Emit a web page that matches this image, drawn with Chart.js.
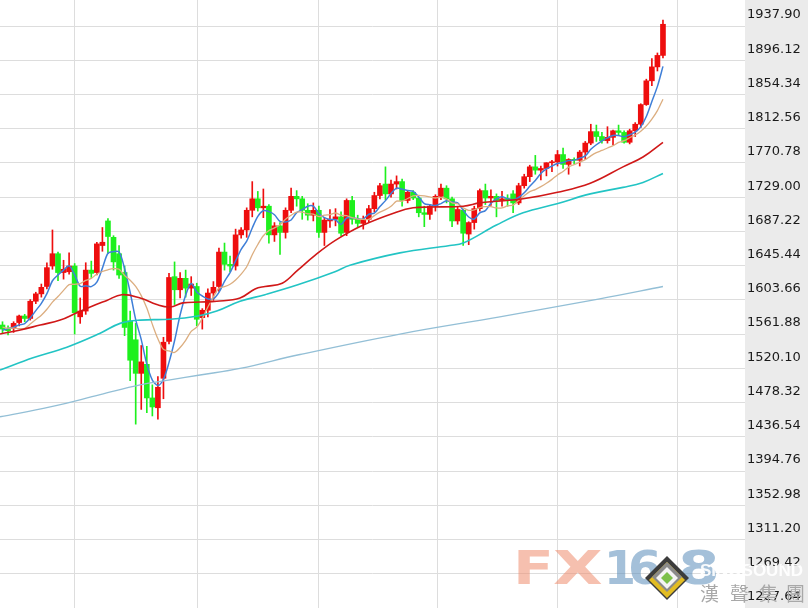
<!DOCTYPE html>
<html>
<head>
<meta charset="utf-8">
<script src="https://cdn.jsdelivr.net/npm/chart.js@4.4.1/dist/chart.umd.min.js"></script>
<style>
  html, body { margin: 0; padding: 0; background: #fff; }
  #wrap { width: 808px; height: 608px; }
</style>
</head>
<body>
<div id="wrap"><canvas id="graph" width="808" height="608"></canvas></div>
<script>
// daily candles, 11 Feb .. 27 Jul (index = trading day)
const opens = [1573,1568,1569,1576,1584,1581,1602,1611,1620,1645,1660,1637,1638,1645,1583,1590,1640,1637,1670,1700,
  1680,1660,1637,1578,1555,1514,1525,1484,1472,1508,1553,1632,1616,1630,1618,1620,1582,1591,1612,1620,
  1662,1647,1645,1683,1689,1713,1727,1716,1718,1683,1694,1686,1713,1730,1727,1713,1707,1713,1686,1700,
  1702,1705,1686,1725,1702,1697,1702,1715,1731,1745,1733,1745,1748,1725,1735,1728,1710,1708,1718,1730,
  1740,1727,1700,1713,1684,1698,1715,1737,1728,1730,1725,1727,1733,1722,1743,1754,1766,1762,1764,1771,
  1772,1781,1769,1775,1774,1784,1795,1809,1803,1798,1802,1810,1808,1796,1810,1818,1842,1871,1888,1902];
const highs = [1577,1572,1577,1585,1586,1604,1613,1623,1649,1689,1662,1652,1661,1648,1606,1649,1651,1674,1692,1703,
  1682,1670,1645,1590,1575,1548,1547,1500,1510,1558,1636,1650,1637,1640,1632,1624,1593,1617,1626,1667,
  1673,1657,1690,1692,1716,1748,1736,1739,1720,1698,1698,1716,1740,1737,1730,1721,1722,1718,1704,1714,
  1715,1711,1727,1730,1707,1706,1719,1735,1746,1766,1750,1755,1751,1737,1737,1729,1718,1720,1732,1745,
  1743,1729,1717,1714,1699,1718,1739,1745,1738,1733,1736,1732,1737,1746,1757,1768,1780,1767,1771,1774,
  1786,1789,1776,1777,1786,1797,1818,1817,1808,1815,1811,1817,1810,1812,1820,1843,1873,1898,1905,1945];
const lows = [1563,1561,1564,1572,1577,1579,1599,1607,1617,1641,1627,1629,1635,1562,1575,1586,1631,1634,1663,1660,
  1640,1630,1560,1505,1452,1470,1466,1462,1458,1483,1550,1598,1606,1607,1609,1572,1568,1583,1603,1614,
  1640,1638,1640,1679,1680,1705,1712,1704,1673,1675,1659,1679,1710,1718,1702,1701,1700,1680,1670,1692,
  1694,1682,1682,1696,1692,1690,1699,1711,1727,1726,1729,1739,1718,1722,1726,1705,1693,1702,1712,1726,
  1722,1693,1696,1670,1671,1690,1712,1720,1719,1705,1718,1718,1710,1720,1740,1748,1757,1750,1755,1760,
  1767,1764,1757,1770,1767,1775,1793,1797,1795,1795,1793,1804,1795,1794,1803,1814,1841,1865,1883,1899];
const closes = [1568,1566,1575,1584,1581,1602,1611,1619,1643,1660,1637,1641,1645,1588,1590,1640,1636,1672,1674,1681,
  1650,1634,1570,1530,1514,1528,1484,1473,1497,1552,1631,1616,1630,1618,1623,1580,1591,1612,1619,1662,
  1647,1645,1683,1689,1713,1727,1716,1718,1683,1694,1686,1713,1730,1727,1713,1707,1713,1686,1701,1702,
  1705,1685,1725,1702,1697,1702,1715,1731,1743,1733,1745,1748,1725,1735,1728,1710,1708,1718,1730,1740,
  1727,1700,1714,1685,1698,1715,1737,1728,1730,1725,1727,1726,1722,1743,1754,1766,1762,1764,1771,1772,
  1781,1769,1775,1774,1784,1795,1809,1803,1798,1802,1810,1808,1796,1810,1818,1842,1871,1888,1902,1940];

// moving averages read per candle
const ma5 = [1566.6,1568.6,1570.4,1573.2,1574.8,1581.6,1590.6,1599.4,1611.2,1627.0,1634.0,1640.0,1645.2,1634.2,1620.2,1620.8,1619.8,1625.2,1642.4,1660.6,
  1662.6,1662.2,1641.8,1613.0,1579.6,1555.2,1525.2,1505.8,1499.2,1506.8,1527.4,1553.8,1585.2,1609.4,1623.6,1613.4,1608.4,1604.8,1605.0,1612.8,
  1626.2,1637.0,1651.2,1665.2,1675.4,1691.4,1705.6,1712.6,1711.4,1707.6,1699.4,1698.8,1701.2,1710.0,1713.8,1718.0,1718.0,1709.2,1704.0,1701.8,
  1701.4,1695.8,1703.6,1703.8,1702.8,1702.2,1708.2,1709.4,1717.6,1724.8,1733.4,1740.0,1738.8,1737.2,1736.2,1729.2,1721.2,1719.8,1718.8,1721.2,
  1724.6,1723.0,1722.2,1713.2,1704.8,1702.4,1709.8,1712.6,1721.6,1727.0,1729.4,1727.2,1726.0,1728.6,1734.4,1742.2,1749.4,1757.8,1763.4,1767.0,
  1770.0,1771.4,1773.6,1774.2,1776.6,1779.4,1787.4,1793.0,1797.8,1801.4,1804.4,1804.2,1802.8,1805.2,1808.4,1814.8,1827.4,1845.8,1864.2,1888.6];
const ma10 = [1570.3,1569.2,1569.1,1568.6,1569.0,1574.1,1579.6,1584.9,1592.2,1600.9,1607.8,1615.3,1622.3,1622.7,1623.6,1627.4,1629.9,1635.2,1638.3,1640.4,
  1641.7,1641.0,1633.5,1627.7,1620.1,1608.9,1593.7,1573.8,1556.1,1543.2,1541.3,1539.5,1545.5,1554.3,1565.2,1570.4,1581.1,1595.0,1607.2,1618.2,
  1619.8,1622.7,1628.0,1635.1,1644.1,1658.8,1671.3,1681.9,1688.3,1691.5,1695.4,1702.2,1706.9,1710.7,1710.7,1708.7,1708.4,1705.2,1707.0,1707.8,
  1709.7,1706.9,1706.4,1703.9,1702.3,1701.8,1702.0,1706.5,1710.7,1713.8,1717.8,1724.1,1724.1,1727.4,1730.5,1731.3,1730.6,1729.3,1728.0,1728.7,
  1726.9,1722.1,1721.0,1716.0,1713.0,1713.5,1716.4,1717.4,1717.4,1715.9,1715.9,1718.5,1719.3,1725.1,1730.7,1735.8,1738.3,1741.9,1746.0,1750.7,
  1756.1,1760.4,1765.7,1768.8,1771.8,1774.7,1779.4,1783.3,1786.0,1789.0,1791.9,1795.8,1797.9,1801.5,1804.9,1809.6,1815.8,1824.3,1834.7,1848.5];

// slower averages read at sample candles
const ma30At = [-0.45,3.2,6.8,10.4,13.4,15.8,18.8,21.5,24.8,27.8,30.2,32.5,35.6,38.6,42.8,45.5,47.3,50.4,53.2,56.3,59.9,65,71.1,74,77,83,86,89,93.8,100,105.9,111.8,115.4,119];
const ma30 = [1562,1567,1573,1579,1588,1595,1603,1610,1606,1598,1595,1600,1601,1602,1606,1617,1620,1624,1640,1658,1676,1695,1711,1716,1717,1718,1722,1724,1727,1735,1746,1766,1778,1796];
const ma60At = [-0.45,5.5,11.6,17.6,21.2,24.8,30.2,35.2,38.6,42.8,47.3,53.2,59.9,62.6,71.6,80.6,83,89,93.8,99.9,105.9,111.8,115.4,119];
const ma60 = [1518,1533,1546,1563,1575,1579,1580,1584,1590,1602,1610,1622,1638,1646,1661,1670,1673,1695,1710,1721,1733,1741,1747,1758];
const ma250At = [-0.45,8.6,17.6,24.8,30.2,35.6,42.8,53.6,71.6,89.6,107.6,119];
const ma250 = [1461,1473,1488,1500,1506,1512,1520,1537,1562,1583,1605,1620];

const yTicks = [1227.64,1269.42,1311.20,1352.98,1394.76,1436.54,1478.32,1520.10,1561.88,1603.66,1645.44,1687.22,1729.00,1770.78,1812.56,1854.34,1896.12,1937.90];
const xGrid = [13.06,35.05,56.85,78.29,99.91,121.53];

const UP = '#ee0e0e';
const DOWN = '#1ef01e';
const candleColors = closes.map((c, i) => c >= opens[i] ? UP : DOWN);

const pts = (xs, ys) => xs.map((x, k) => ({ x: x, y: ys[k] }));

const panel = {
  id: 'panel',
  beforeDraw(chart) {
    const { ctx, chartArea, width, height } = chart;
    ctx.save();
    ctx.fillStyle = '#ffffff';
    ctx.fillRect(0, 0, width, height);
    ctx.fillStyle = '#ebebeb';
    ctx.fillRect(chartArea.right, 0, width - chartArea.right, height);
    ctx.restore();
  },
  afterDraw(chart) {
    // FX168 watermark
    const ctx = chart.ctx;
    ctx.save();
    ctx.font = 'bold 46px "DejaVu Sans"';
    ctx.textBaseline = 'alphabetic';
    const chars = [['F', 513, 1.3, 'rgba(238,140,110,0.55)'], ['X', 553, 1.4, 'rgba(238,140,110,0.55)'],
      ['1', 604, 1.0, 'rgba(90,140,185,0.55)'], ['6', 628, 1.05, 'rgba(90,140,185,0.55)'], ['8', 678, 1.3, 'rgba(90,140,185,0.55)']];
    chars.forEach(([t, x, sx, col]) => {
      ctx.save();
      ctx.translate(x, 584);
      ctx.scale(sx, 1);
      ctx.fillStyle = col;
      ctx.fillText(t, 0, 0);
      ctx.restore();
    });
    // diamond logo
    const cx = 667, cy = 578;
    const diamond = (r, dy, col) => {
      ctx.beginPath();
      ctx.moveTo(cx, cy + dy - r); ctx.lineTo(cx + r, cy + dy); ctx.lineTo(cx, cy + dy + r); ctx.lineTo(cx - r, cy + dy);
      ctx.closePath();
      ctx.fillStyle = col;
      ctx.fill();
    };
    diamond(22, 0, '#3c3c3c');
    diamond(18, 2, '#e2bc22');
    diamond(15, -1, '#8a8a8a');
    diamond(11, 0, '#f4f4f4');
    diamond(6, 0, '#7cc04a');
    ctx.font = 'bold 17px "Liberation Sans"';
    ctx.fillStyle = 'rgba(255,255,255,0.92)';
    ctx.fillText('SINOSOUND', 700, 576);
    ctx.font = '19px "Noto Sans CJK TC"';
    ctx.fillStyle = '#a8a8a8';
    [['漢', 700], ['聲', 730], ['集', 759], ['團', 786]].forEach(([t, x]) => ctx.fillText(t, x, 601));
    ctx.restore();
  }
};

new Chart(document.getElementById('graph'), {
  type: 'bar',
  data: {
    datasets: [
      { type: 'line', data: pts(ma250At, ma250), borderColor: '#93bfd6', borderWidth: 1.3, pointRadius: 0, tension: 0.4, order: 0 },
      { type: 'line', data: pts(ma60At, ma60), borderColor: '#22c4c4', borderWidth: 1.6, pointRadius: 0, tension: 0.4, order: 0 },
      { type: 'line', data: pts(ma30At, ma30), borderColor: '#d01818', borderWidth: 1.6, pointRadius: 0, tension: 0.4, order: 0 },
      { type: 'line', data: ma10.map((v, i) => ({ x: i, y: v })), borderColor: '#dcae80', borderWidth: 1.3, pointRadius: 0, tension: 0.3, order: 0 },
      { type: 'line', data: ma5.map((v, i) => ({ x: i, y: v })), borderColor: '#3f7fd8', borderWidth: 1.5, pointRadius: 0, tension: 0.3, order: 0 },
      { data: closes.map((c, i) => ({ x: i, y: [opens[i], c] })), backgroundColor: candleColors, borderWidth: 0,
        barThickness: 5, minBarLength: 1, grouped: false, order: 1 },
      { data: highs.map((h, i) => ({ x: i, y: [lows[i], h] })), backgroundColor: candleColors, borderWidth: 0,
        barThickness: 1, grouped: false, order: 2 }
    ]
  },
  options: {
    responsive: false,
    devicePixelRatio: 1,
    animation: false,
    layout: { padding: 0 },
    plugins: { legend: { display: false }, tooltip: { enabled: false } },
    scales: {
      x: {
        type: 'linear', min: -0.45, max: 133.78, offset: false,
        afterBuildTicks: (s) => { s.ticks = xGrid.map(v => ({ value: v })); },
        afterFit: (s) => { s.height = 0; s.paddingLeft = 0; s.paddingRight = 0; s.paddingTop = 0; s.paddingBottom = 0; },
        ticks: { display: false },
        grid: { color: '#dddddd', drawTicks: false, offset: false },
        border: { display: false }
      },
      y: {
        position: 'right', min: 1227.64, max: 1969.63,
        afterBuildTicks: (s) => { s.ticks = yTicks.map(v => ({ value: v })); },
        afterFit: (s) => { s.width = 63; s.paddingTop = 0; s.paddingBottom = 0; },
        ticks: {
          autoSkip: false, padding: 2, labelOffset: -11, color: '#1a1a1a',
          font: { family: 'DejaVu Sans', size: 13 },
          callback: (v) => Number(v).toFixed(2)
        },
        grid: { color: '#dddddd', drawTicks: false },
        border: { display: false }
      }
    }
  },
  plugins: [panel]
});
</script>
</body>
</html>
